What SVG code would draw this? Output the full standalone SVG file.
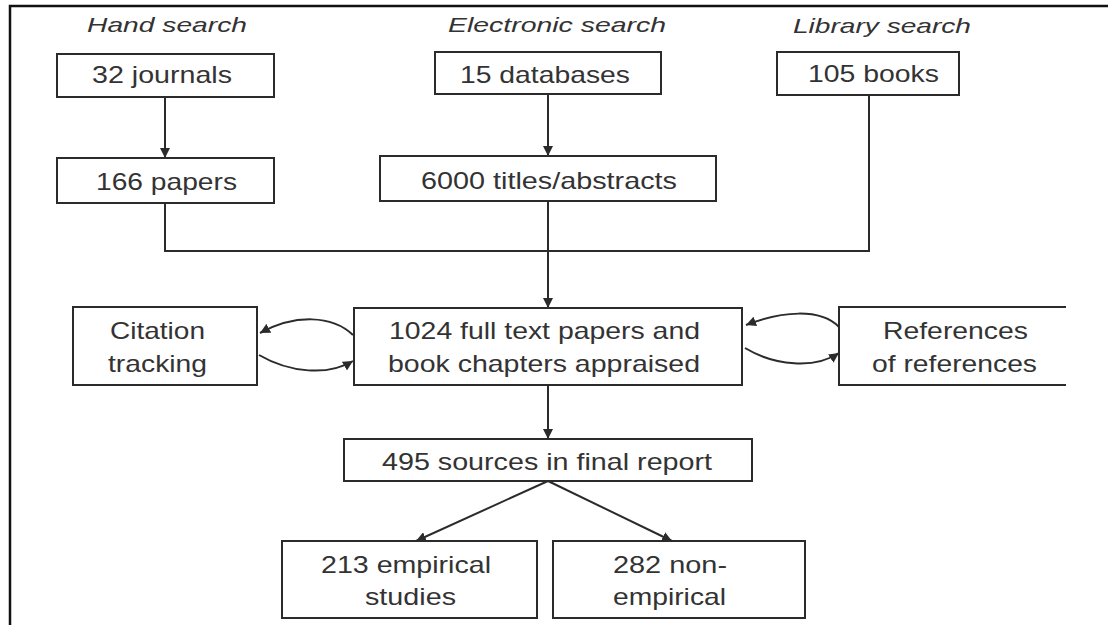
<svg xmlns="http://www.w3.org/2000/svg" width="1108" height="625" viewBox="0 0 1108 625">
<style>
.box{fill:#fff;stroke:#2b2b2b;stroke-width:2}
.t{font-family:"Liberation Sans",Arial,sans-serif;font-size:24px;fill:#333}
.h{font-family:"Liberation Sans",Arial,sans-serif;font-size:21px;font-style:italic;fill:#333}
.c{fill:none;stroke:#2b2b2b;stroke-width:2}
</style>
<defs>
<marker id="ah" viewBox="0 0 10 10" refX="10" refY="5" markerWidth="5" markerHeight="5" orient="auto" markerUnits="strokeWidth">
<path d="M0,0 L10,5 L0,10 z" fill="#2b2b2b"/>
</marker>
</defs>
<rect width="1108" height="625" fill="#fff"/>
<g id="frame">
<path d="M10,625 L10,6 L1108,6" fill="none" stroke="#111" stroke-width="2.5"/>
</g>
<g id="headers">
<text class="h" x="87" y="32" textLength="160" lengthAdjust="spacingAndGlyphs">Hand search</text>
<text class="h" x="448" y="32" textLength="218" lengthAdjust="spacingAndGlyphs">Electronic search</text>
<text class="h" x="793" y="33" textLength="178" lengthAdjust="spacingAndGlyphs">Library search</text>
</g>
<g id="connectors">
<path class="c" d="M165,97 L165,158" marker-end="url(#ah)"/>
<path class="c" d="M548,94 L548,156" marker-end="url(#ah)"/>
<path class="c" d="M165,203 L165,251 L869,251 L869,95"/>
<path class="c" d="M548,201 L548,308" marker-end="url(#ah)"/>
<path class="c" d="M548,385 L548,439" marker-end="url(#ah)"/>
<path class="c" d="M548,481 L416,541" marker-end="url(#ah)"/>
<path class="c" d="M548,481 L672,541" marker-end="url(#ah)"/>
<path class="c" d="M353,335 C332,315 295,314 260,333" marker-end="url(#ah)"/>
<path class="c" d="M259,355 C290,373 328,376 353,361" marker-end="url(#ah)"/>
<path class="c" d="M839,327 C820,308 782,311 746,325" marker-end="url(#ah)"/>
<path class="c" d="M745,348 C775,366 815,369 839,353" marker-end="url(#ah)"/>
</g>
<g id="n-journals">
<rect class="box" x="57" y="54" width="217" height="43"/>
<text class="t" x="92" y="83" textLength="140" lengthAdjust="spacingAndGlyphs">32 journals</text>
</g>
<g id="n-papers">
<rect class="box" x="57" y="158" width="217" height="45"/>
<text class="t" x="96" y="190" textLength="141" lengthAdjust="spacingAndGlyphs">166 papers</text>
</g>
<g id="n-databases">
<rect class="box" x="435" y="52" width="226" height="42"/>
<text class="t" x="460" y="83" textLength="170" lengthAdjust="spacingAndGlyphs">15 databases</text>
</g>
<g id="n-titles">
<rect class="box" x="380" y="156" width="336" height="45"/>
<text class="t" x="421" y="189" textLength="256" lengthAdjust="spacingAndGlyphs">6000 titles/abstracts</text>
</g>
<g id="n-books">
<rect class="box" x="777" y="52" width="182" height="43"/>
<text class="t" x="808" y="82" textLength="131" lengthAdjust="spacingAndGlyphs">105 books</text>
</g>
<g id="n-citation">
<rect class="box" x="73" y="307" width="184" height="78"/>
<text class="t" x="110" y="339" textLength="95" lengthAdjust="spacingAndGlyphs">Citation</text>
<text class="t" x="108" y="372" textLength="99" lengthAdjust="spacingAndGlyphs">tracking</text>
</g>
<g id="n-fulltext">
<rect class="box" x="354" y="308" width="388" height="77"/>
<text class="t" x="389" y="339" textLength="311" lengthAdjust="spacingAndGlyphs">1024 full text papers and</text>
<text class="t" x="388" y="372" textLength="312" lengthAdjust="spacingAndGlyphs">book chapters appraised</text>
</g>
<g id="n-references">
<path d="M1066,307 L839,307 L839,385 L1066,385" fill="#fff" stroke="#2b2b2b" stroke-width="2"/>
<text class="t" x="883" y="339" textLength="145" lengthAdjust="spacingAndGlyphs">References</text>
<text class="t" x="872" y="372" textLength="165" lengthAdjust="spacingAndGlyphs">of references</text>
</g>
<g id="n-final">
<rect class="box" x="344" y="439" width="408" height="42"/>
<text class="t" x="382" y="470" textLength="330" lengthAdjust="spacingAndGlyphs">495 sources in final report</text>
</g>
<g id="n-empirical">
<rect class="box" x="282" y="541" width="255" height="77"/>
<text class="t" x="321" y="573" textLength="170" lengthAdjust="spacingAndGlyphs">213 empirical</text>
<text class="t" x="365" y="605" textLength="91" lengthAdjust="spacingAndGlyphs">studies</text>
</g>
<g id="n-nonempirical">
<rect class="box" x="553" y="541" width="252" height="77"/>
<text class="t" x="613" y="573" textLength="114" lengthAdjust="spacingAndGlyphs">282 non-</text>
<text class="t" x="613" y="605" textLength="113" lengthAdjust="spacingAndGlyphs">empirical</text>
</g>
</svg>
